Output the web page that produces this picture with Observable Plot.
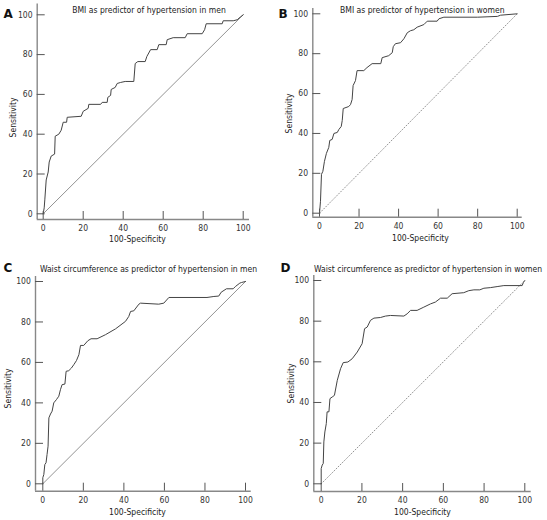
<!DOCTYPE html>
<html><head><meta charset="utf-8">
<script src="https://cdn.jsdelivr.net/npm/d3@7"></script>
<script src="https://cdn.jsdelivr.net/npm/@observablehq/plot@0.6"></script>
<style>
body{margin:0;background:#fff;}
#root{position:relative;width:547px;height:520px;overflow:hidden;background:#fff;}
#root svg{position:absolute;overflow:visible;}
</style></head><body><div id="root"></div>
<script>
const FONT = "'DejaVu Sans Condensed','DejaVu Sans',sans-serif";
const panelLetters = ["A", "B", "C", "D"];
const panelTitles = [
  "BMI as predictor of hypertension in men",
  "BMI as predictor of hypertension in women",
  "Waist circumference as predictor of hypertension in men",
  "Waist circumference as predictor of hypertension in women"
];
const xLabel = "100-Specificity";
const yLabel = "Sensitivity";
const tickValues = [0, 20, 40, 60, 80, 100];
const diagonal = [0, 100];

// Panel A: BMI, men
const bmiMenX = [0,0.5,0.8,1.5,2.5,3,4,5.7,6,7.8,9,10,11.7,12,19,20,22.5,22.8,28.7,29.5,32,32.3,33.7,34,36,37,38.7,41,45.3,46,47.3,51,51.8,53.7,57,57.8,61.5,62,65,71,72,79.5,80.7,81.5,89.5,90,95,97,98.7,100];
const bmiMenY = [0,3,7,17,21,26,29,30,39,40,42,46,46,48.5,49,51.5,53,55,55,56,56,58.5,59.5,62.5,63.5,65.5,66,66.5,66.5,75.5,76.5,76.5,79,82.5,82.5,85,85,87.5,88.5,88.5,90.5,90.5,92.5,95.5,95.5,97,97,97.5,99,100];
// Panel B: BMI, women
const bmiWomenX = [0,0.5,1,1.7,2.5,3.5,4.7,5.2,6.4,7.3,9,9.8,11,11.5,12,14.8,15.7,16.5,17,18.2,19,22.4,24,26.6,31,31.7,35,36.8,37.3,38.4,41,42.7,44.4,46,47.7,49.4,52.8,54.5,59.5,60.4,62.9,80,90,91.6,100];
const bmiWomenY = [0,6,19.5,21,26,30,33,36.5,37,40,40.5,42,43.5,46.5,52.5,53.5,54.5,57,64,66.5,71.5,71.5,73,75,75,78,79,80.5,83.5,85,85.5,87.5,90.5,91.5,92,93.3,94.6,96.3,96.3,97.5,98.3,98.3,98.7,99.3,100];
// Panel C: waist, men
const waistMenX = [0,0,0.5,1,1.6,2.1,2.6,3,3.8,4.6,5.4,6.7,7.9,8.7,9.5,10.9,11.5,12.8,14.1,15.3,16.6,17.8,18.6,20.2,22.2,23.8,26.8,30.9,35.9,40.8,42.4,43.3,44.9,47.4,48.2,57.2,59.7,62.2,81,84.4,86.8,88,90.6,93.9,95,97.2,98,100];
const waistMenY = [0,3,4.6,9.5,10.4,14.5,18.6,32.6,34.5,35.9,40,41.6,43.3,46.5,49,49.3,55.6,55.9,57.2,58.9,60.9,63.8,68.4,68.4,70.7,71.7,71.7,73.7,76.6,80.3,82.7,85.2,85.5,88.8,89.3,88.8,89.3,92.1,92.1,92.6,92.8,94.7,96.4,96.4,97.5,99.2,99.5,100];
// Panel D: waist, women
const waistWomenX = [0,0,0.5,1,1.3,1.8,2.5,2.9,3.8,4.3,5.4,6.5,7.9,9.5,10.8,13.1,15.2,17.7,20.1,21.3,22.6,24.2,25.9,29.1,31.6,34,40.6,42.2,43.9,47.1,50.4,53.7,56.1,58.6,61.9,64.3,70,72.5,75,77.9,79.9,83.1,86.4,89.7,98.7,99.3,100];
const waistWomenY = [0,7.5,9.2,10,20.6,25.5,29.6,35.4,35.4,41.9,42.7,43.5,50.9,56.6,59.6,59.9,61.5,64.8,68.9,76.3,77.1,80.4,81.5,81.8,82.5,82.8,82.5,83.6,85.3,85.3,86.9,88.5,89.4,91.3,91.3,93.5,94,95,95.4,95.4,96.2,96.5,97,97.5,97.5,99,100];

// layout (pixel geometry of each panel, local to its own SVG)
const layouts = [
  {left:0, top:0, w:270, h:250, x0:42.7, x100:242.7, y0:213.3, y100:14.3, L:36.7, R:249, T:3.5, B:219,
   title:[148.5,10], letter:[3,13.2], ylab:[13,117], xlab:[137,239], dotted:false},
  {left:270, top:0, w:277, h:250, x0:49, x100:246.7, y0:212.7, y100:13.3, L:42.3, R:251.7, T:8, B:216.7,
   title:[151.8,10], letter:[8,13.2], ylab:[19,113], xlab:[150,238], dotted:true},
  {left:0, top:255, w:270, h:265, x0:42.3, x100:245, y0:228.3, y100:26, L:35, R:250.7, T:21, B:235.7,
   title:[148,14], letter:[3,13], ylab:[8,133], xlab:[137,257], dotted:false},
  {left:270, top:255, w:277, h:265, x0:50.7, x100:254.3, y0:228.3, y100:25, L:43.3, R:260.7, T:20, B:236,
   title:[157.5,14], letter:[10,13], ylab:[21,128], xlab:[152,257], dotted:true}
];
const series = [[bmiMenX,bmiMenY],[bmiWomenX,bmiWomenY],[waistMenX,waistMenY],[waistWomenX,waistWomenY]];

const root = document.getElementById("root");
layouts.forEach((g, i) => {
  const [xs, ys] = series[i];
  const data = xs.map((x, j) => ({x, y: ys[j]}));
  const kx = (g.x100 - g.x0) / 100, ky = (g.y0 - g.y100) / 100;
  const xDom = [(g.L - g.x0) / kx, (g.R - g.x0) / kx];
  const yDom = [(g.y0 - g.B) / ky, (g.y0 - g.T) / ky];
  const fw = g.R - g.L, fh = g.B - g.T;
  const at = (p, o = {}) => ({frameAnchor: "top-left", dx: p[0] - g.L, dy: p[1] - g.T, ...o});
  const svg = Plot.plot({
    width: g.w, height: g.h,
    marginLeft: g.L, marginRight: g.w - g.R, marginTop: g.T, marginBottom: g.h - g.B,
    x: {domain: xDom}, y: {domain: yDom},
    style: {fontFamily: FONT, fontSize: "8.5px", color: "#333", background: "transparent", overflow: "visible"},
    marks: [
      Plot.line(diagonal, {x: d => d, y: d => d, stroke: "#777", strokeWidth: 0.8, strokeDasharray: g.dotted ? "1,2" : null}),
      Plot.line(data, {x: "x", y: "y", stroke: "#444", strokeWidth: 1}),
      Plot.ruleX([xDom[0]], {stroke: "#888", strokeWidth: 1.4}),
      Plot.ruleY([yDom[0]], {stroke: "#888", strokeWidth: 1.4}),
      Plot.tickX(tickValues, {x: d => d, insetTop: fh - 8, stroke: "#555", strokeWidth: 1}),
      Plot.tickY(tickValues, {y: d => d, insetRight: fw - 8, stroke: "#555", strokeWidth: 1}),
      Plot.axisX(tickValues, {anchor: "bottom", tickSize: 0, tickPadding: 5.3, label: null, fill: "#333"}),
      Plot.axisY(tickValues, {anchor: "left", tickSize: 0, tickPadding: 4.7, label: null, fill: "#333"}),
      Plot.text([panelTitles[i]], at(g.title, {text: d => d, textAnchor: "middle", lineAnchor: "middle", fontSize: 8.5, fill: "#222"})),
      Plot.text([panelLetters[i]], at(g.letter, {text: d => d, textAnchor: "start", lineAnchor: "middle", fontSize: 12, fontWeight: "bold", fill: "#111", fontFamily: "'DejaVu Sans',sans-serif"})),
      Plot.text([yLabel], at(g.ylab, {text: d => d, textAnchor: "middle", lineAnchor: "middle", rotate: -90, fontSize: 8.5, fill: "#222"})),
      Plot.text([xLabel], at(g.xlab, {text: d => d, textAnchor: "middle", lineAnchor: "middle", fontSize: 8.5, fill: "#222"}))
    ]
  });
  svg.style.left = g.left + "px";
  svg.style.top = g.top + "px";
  root.appendChild(svg);
});
</script></body></html>
